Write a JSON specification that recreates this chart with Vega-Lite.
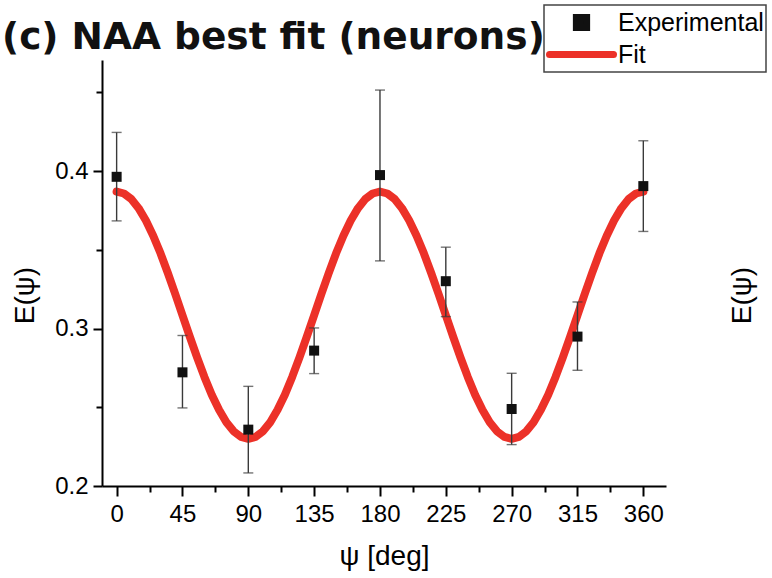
{
  "$schema": "https://vega.github.io/schema/vega-lite/v6.json",
  "width": 564,
  "height": 426,
  "autosize": {"type": "none"},
  "padding": {"left": 102, "top": 60, "right": 106, "bottom": 92},
  "background": "white",
  "config": {
    "view": {"stroke": null},
    "axis": {"grid": false, "domainColor": "#000", "domainWidth": 2, "tickColor": "#000", "tickWidth": 2, "labelFont": "Liberation Sans", "labelFontSize": 24, "labelColor": "#000", "titleFont": "Liberation Sans", "titleFontWeight": "normal", "titleColor": "#000"}
  },
  "title": {"text": "(c) NAA best fit (neurons)", "anchor": "start", "frame": "group", "font": "DejaVu Sans", "fontSize": 37.5, "fontWeight": "bold", "color": "#111", "dx": -100, "baseline": "alphabetic", "offset": 13, "dy": 95},
  "datasets": {
    "fit": [
      {"psi": 0, "E": 0.3870, "series": "Fit"}, {"psi": 5, "E": 0.3858, "series": "Fit"}, {"psi": 10, "E": 0.3823, "series": "Fit"}, {"psi": 15, "E": 0.3765, "series": "Fit"}, {"psi": 20, "E": 0.3686, "series": "Fit"}, {"psi": 25, "E": 0.3590, "series": "Fit"}, {"psi": 30, "E": 0.3478, "series": "Fit"}, {"psi": 35, "E": 0.3353, "series": "Fit"}, {"psi": 40, "E": 0.3221, "series": "Fit"}, {"psi": 45, "E": 0.3085, "series": "Fit"}, {"psi": 50, "E": 0.2949, "series": "Fit"}, {"psi": 55, "E": 0.2817, "series": "Fit"}, {"psi": 60, "E": 0.2693, "series": "Fit"}, {"psi": 65, "E": 0.2580, "series": "Fit"}, {"psi": 70, "E": 0.2484, "series": "Fit"}, {"psi": 75, "E": 0.2405, "series": "Fit"}, {"psi": 80, "E": 0.2347, "series": "Fit"}, {"psi": 85, "E": 0.2312, "series": "Fit"}, {"psi": 90, "E": 0.2300, "series": "Fit"},
      {"psi": 95, "E": 0.2312, "series": "Fit"}, {"psi": 100, "E": 0.2347, "series": "Fit"}, {"psi": 105, "E": 0.2405, "series": "Fit"}, {"psi": 110, "E": 0.2484, "series": "Fit"}, {"psi": 115, "E": 0.2580, "series": "Fit"}, {"psi": 120, "E": 0.2693, "series": "Fit"}, {"psi": 125, "E": 0.2817, "series": "Fit"}, {"psi": 130, "E": 0.2949, "series": "Fit"}, {"psi": 135, "E": 0.3085, "series": "Fit"}, {"psi": 140, "E": 0.3221, "series": "Fit"}, {"psi": 145, "E": 0.3353, "series": "Fit"}, {"psi": 150, "E": 0.3478, "series": "Fit"}, {"psi": 155, "E": 0.3590, "series": "Fit"}, {"psi": 160, "E": 0.3686, "series": "Fit"}, {"psi": 165, "E": 0.3765, "series": "Fit"}, {"psi": 170, "E": 0.3823, "series": "Fit"}, {"psi": 175, "E": 0.3858, "series": "Fit"}, {"psi": 180, "E": 0.3870, "series": "Fit"},
      {"psi": 185, "E": 0.3858, "series": "Fit"}, {"psi": 190, "E": 0.3823, "series": "Fit"}, {"psi": 195, "E": 0.3765, "series": "Fit"}, {"psi": 200, "E": 0.3686, "series": "Fit"}, {"psi": 205, "E": 0.3590, "series": "Fit"}, {"psi": 210, "E": 0.3478, "series": "Fit"}, {"psi": 215, "E": 0.3353, "series": "Fit"}, {"psi": 220, "E": 0.3221, "series": "Fit"}, {"psi": 225, "E": 0.3085, "series": "Fit"}, {"psi": 230, "E": 0.2949, "series": "Fit"}, {"psi": 235, "E": 0.2817, "series": "Fit"}, {"psi": 240, "E": 0.2693, "series": "Fit"}, {"psi": 245, "E": 0.2580, "series": "Fit"}, {"psi": 250, "E": 0.2484, "series": "Fit"}, {"psi": 255, "E": 0.2405, "series": "Fit"}, {"psi": 260, "E": 0.2347, "series": "Fit"}, {"psi": 265, "E": 0.2312, "series": "Fit"}, {"psi": 270, "E": 0.2300, "series": "Fit"},
      {"psi": 275, "E": 0.2312, "series": "Fit"}, {"psi": 280, "E": 0.2347, "series": "Fit"}, {"psi": 285, "E": 0.2405, "series": "Fit"}, {"psi": 290, "E": 0.2484, "series": "Fit"}, {"psi": 295, "E": 0.2580, "series": "Fit"}, {"psi": 300, "E": 0.2693, "series": "Fit"}, {"psi": 305, "E": 0.2817, "series": "Fit"}, {"psi": 310, "E": 0.2949, "series": "Fit"}, {"psi": 315, "E": 0.3085, "series": "Fit"}, {"psi": 320, "E": 0.3221, "series": "Fit"}, {"psi": 325, "E": 0.3353, "series": "Fit"}, {"psi": 330, "E": 0.3478, "series": "Fit"}, {"psi": 335, "E": 0.3590, "series": "Fit"}, {"psi": 340, "E": 0.3686, "series": "Fit"}, {"psi": 345, "E": 0.3765, "series": "Fit"}, {"psi": 350, "E": 0.3823, "series": "Fit"}, {"psi": 355, "E": 0.3858, "series": "Fit"}, {"psi": 360, "E": 0.3870, "series": "Fit"}
    ],
    "exp": [
      {"psi": 0, "E": 0.3964, "lo": 0.3684, "hi": 0.4246, "series": "Experimental"},
      {"psi": 45, "E": 0.2722, "lo": 0.2496, "hi": 0.2956, "series": "Experimental"},
      {"psi": 90, "E": 0.2358, "lo": 0.2083, "hi": 0.2633, "series": "Experimental"},
      {"psi": 135, "E": 0.2860, "lo": 0.2714, "hi": 0.3004, "series": "Experimental"},
      {"psi": 180, "E": 0.3975, "lo": 0.3430, "hi": 0.4515, "series": "Experimental"},
      {"psi": 225, "E": 0.3301, "lo": 0.3076, "hi": 0.3517, "series": "Experimental"},
      {"psi": 270, "E": 0.2489, "lo": 0.2263, "hi": 0.2716, "series": "Experimental"},
      {"psi": 315, "E": 0.2949, "lo": 0.2735, "hi": 0.3169, "series": "Experimental"},
      {"psi": 360, "E": 0.3905, "lo": 0.3617, "hi": 0.4193, "series": "Experimental"}
    ]
  },
  "resolve": {"axis": {"x": "independent", "y": "independent"}},
  "layer": [
    {
      "data": {"name": "fit"},
      "mark": {"type": "line", "strokeWidth": 8, "strokeCap": "round", "strokeJoin": "round"},
      "encoding": {
        "x": {"field": "psi", "type": "quantitative", "scale": {"domain": [-10, 375.5], "nice": false, "zero": false},
              "axis": {"orient": "bottom", "values": [0, 45, 90, 135, 180, 225, 270, 315, 360], "tickSize": 10, "labelPadding": 6, "title": "ψ [deg]", "titleFontSize": 28, "titlePadding": 16}},
        "y": {"field": "E", "type": "quantitative", "scale": {"domain": [0.2, 0.4706], "nice": false, "zero": false},
              "axis": {"orient": "left", "values": [0.2, 0.3, 0.4], "format": ".1f", "tickSize": 9, "labelPadding": 5, "title": "E(ψ)", "titleFontSize": 28, "titleAngle": -90, "titleBaseline": "alphabetic", "titleAlign": "center", "titleX": -69, "titleY": 235}},
        "color": {"field": "series", "type": "nominal",
                  "scale": {"domain": ["Experimental", "Fit"], "range": ["#111111", "#ec3128"]},
                  "legend": {"orient": "none", "legendX": 442, "legendY": -55, "title": null, "symbolSize": 4096, "symbolStrokeWidth": 7, "clipHeight": 31, "rowPadding": 1, "labelFont": "Liberation Sans", "labelFontSize": 25, "labelColor": "#000", "labelOffset": 1, "padding": 2, "strokeColor": "#444",
                    "encode": {"symbols": {"update": {
                      "shape": {"signal": "datum.value === 'Fit' ? 'stroke' : 'M-0.16,-0.16H0.16V0.16H-0.16Z'"},
                      "size": {"value": 4096},
                      "fill": {"signal": "datum.value === 'Fit' ? 'transparent' : '#111111'"},
                      "stroke": {"signal": "datum.value === 'Fit' ? '#ec3128' : 'transparent'"},
                      "strokeWidth": {"value": 7},
                      "strokeCap": {"value": "round"},
                      "opacity": {"value": 1}}},
                      "legend": {"update": {"strokeWidth": {"value": 1.5}}}}}}
      }
    },
    {
      "data": {"name": "exp"},
      "mark": {"type": "rule", "color": "#3a3a3a", "strokeWidth": 1.4},
      "encoding": {
        "x": {"field": "psi", "type": "quantitative",
              "axis": {"orient": "bottom", "values": [22.5, 67.5, 112.5, 157.5, 202.5, 247.5, 292.5, 337.5], "labels": false, "domain": false, "tickSize": 6, "title": null}},
        "y": {"field": "lo", "type": "quantitative",
              "axis": {"orient": "left", "values": [0.25, 0.35, 0.45], "labels": false, "domain": false, "tickSize": 6, "title": null}},
        "y2": {"field": "hi"}
      }
    },
    {
      "data": {"name": "exp"},
      "mark": {"type": "tick", "orient": "horizontal", "color": "#3a3a3a", "size": 10, "thickness": 1.4},
      "encoding": {
        "x": {"field": "psi", "type": "quantitative", "axis": null},
        "y": {"field": "lo", "type": "quantitative", "axis": null}
      }
    },
    {
      "data": {"name": "exp"},
      "mark": {"type": "tick", "orient": "horizontal", "color": "#3a3a3a", "size": 10, "thickness": 1.4},
      "encoding": {
        "x": {"field": "psi", "type": "quantitative", "axis": null},
        "y": {"field": "hi", "type": "quantitative", "axis": null}
      }
    },
    {
      "data": {"name": "exp"},
      "mark": {"type": "point", "shape": "square", "filled": true, "size": 100, "opacity": 1},
      "encoding": {
        "x": {"field": "psi", "type": "quantitative", "axis": null},
        "y": {"field": "E", "type": "quantitative",
              "axis": {"orient": "right", "labels": false, "ticks": false, "domain": false, "title": "E(ψ)", "titleFontSize": 28, "titleAngle": -90, "titleBaseline": "alphabetic", "titleAlign": "center", "titleX": 84, "titleY": 235}},
        "color": {"field": "series", "type": "nominal",
                  "legend": {"orient": "none", "legendX": 442, "legendY": -55, "title": null, "symbolSize": 4096, "symbolStrokeWidth": 7, "clipHeight": 31, "rowPadding": 1, "labelFont": "Liberation Sans", "labelFontSize": 25, "labelColor": "#000", "labelOffset": 1, "padding": 2, "strokeColor": "#444",
                    "encode": {"symbols": {"update": {
                      "shape": {"signal": "datum.value === 'Fit' ? 'stroke' : 'M-0.16,-0.16H0.16V0.16H-0.16Z'"},
                      "size": {"value": 4096},
                      "fill": {"signal": "datum.value === 'Fit' ? 'transparent' : '#111111'"},
                      "stroke": {"signal": "datum.value === 'Fit' ? '#ec3128' : 'transparent'"},
                      "strokeWidth": {"value": 7},
                      "strokeCap": {"value": "round"},
                      "opacity": {"value": 1}}},
                      "legend": {"update": {"strokeWidth": {"value": 1.5}}}}}}
      }
    }
  ]
}
